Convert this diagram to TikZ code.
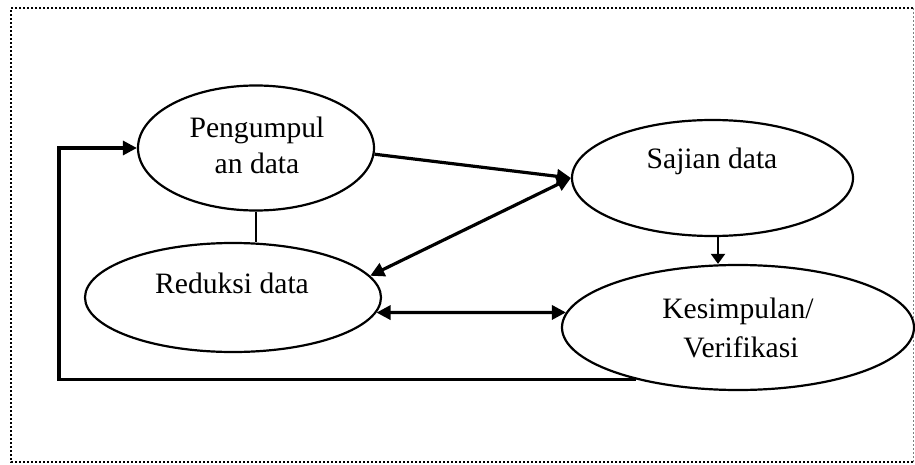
\documentclass[tikz,border=0pt]{standalone}
\usepackage{fontspec}
\setmainfont{Liberation Serif}
\usetikzlibrary{shapes.geometric,arrows.meta}
\begin{document}
\begin{tikzpicture}[x=0.5pt,y=-0.5pt,
  oval/.style={draw,ellipse,line width=1.1pt,inner sep=0pt},
  lbl/.style={anchor=base,inner sep=0pt,font=\fontsize{14.8}{17}\selectfont},
  tip/.style={line width=1.6pt,-{Triangle[length=7pt,width=7pt]}},
  tips/.style={line width=1.6pt,{Triangle[length=7pt,width=7pt]}-{Triangle[length=7pt,width=7pt]}},
  frame/.style={line width=1pt,dash pattern=on 1pt off 1pt}]
\useasboundingbox (0,0) rectangle (915,465);
% frame
\coordinate (f1) at (11,8);
\coordinate (f2) at (913,8);
\coordinate (f3) at (913,462);
\coordinate (f4) at (11,462);
\draw[frame] (f3) -- (f4) -- (f1) -- (f2);
\draw[line width=0.5pt,dash pattern=on 1pt off 1pt,gray] (f2) -- (f3);
% ellipses
\node[oval,minimum width=118pt,minimum height=62.5pt] (P) at (256,148) {};
\node[oval,minimum width=148pt,minimum height=54.5pt] (R) at (233,297.5) {};
\node[oval,minimum width=140.5pt,minimum height=58pt] (S) at (712.5,178) {};
\node[oval,minimum width=176pt,minimum height=62.5pt] (K) at (738,327.5) {};
% labels
\node[lbl] (p1) at (257,138) {Pengumpul};
\node[lbl] (p2) at (257,173) {an data};
\node[lbl] (r1) at (232,293) {Reduksi data};
\node[lbl] (s1) at (712,169) {Sajian data};
\node[lbl] (k1) at (738,318) {Kesimpulan/};
\node[lbl] (k2) at (741,357.5) {Verifikasi};
% connectors
\coordinate (fb) at (59,148);
\draw[tip] (K.207.5) -| (fb) -- (P.west);
\draw[tip] (P.-3) -- (S.west);
\draw[tips] (S.west) -- (R.9);
\draw[tips] (R.-6) -- (K.175);
\draw[line width=1pt,-{Triangle[length=5pt,width=7pt]}] ([xshift=2.75pt]S.south) -- ([xshift=-10pt]K.north);
\draw[line width=0.6pt] (P.south) -- ([xshift=11.5pt]R.north);
\end{tikzpicture}
\end{document}
